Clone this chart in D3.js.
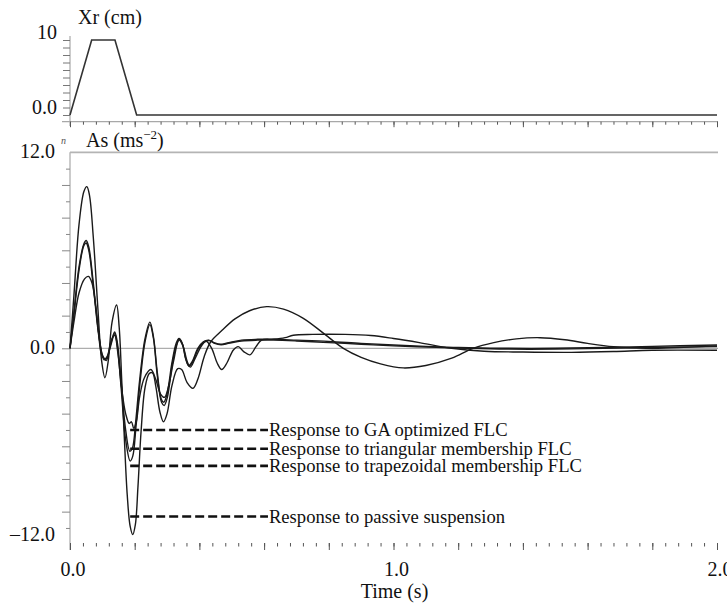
<!DOCTYPE html>
<html>
<head>
<meta charset="utf-8">
<script src="https://d3js.org/d3.v7.min.js"></script>
<style>
  body { margin: 0; background: #fff; }
  text { font-family: 'Liberation Serif', 'DejaVu Serif', serif; fill: #111; }
</style>
</head>
<body>
<svg id="chart" width="727" height="611"></svg>
<script>
// road input Xr (cm) vs time (s)
const roadInput = [[0, 0], [0.067, 10], [0.139, 10], [0.206, 0], [2.0, 0]];

// body acceleration As (m/s^2) vs time (s)
const passive = [[0,0],[0.012,3.2],[0.028,7.6],[0.043,9.6],[0.052,9.9],[0.06,9.4],[0.072,6.8],[0.086,2.5],[0.098,-0.8],[0.108,-1.8],[0.118,-0.8],[0.13,1.6],[0.144,2.65],[0.152,1.3],[0.16,-2.0],[0.168,-5.5],[0.177,-9.0],[0.186,-10.9],[0.194,-11.4],[0.202,-10.8],[0.21,-8.5],[0.22,-5.0],[0.232,-2.4],[0.245,-1.55],[0.255,-1.5],[0.265,-2.3],[0.278,-3.9],[0.289,-4.5],[0.3,-4.0],[0.315,-2.3],[0.333,-1.25],[0.345,-1.3],[0.362,-2.1],[0.38,-2.45],[0.395,-1.9],[0.415,-0.5],[0.435,0.4],[0.47,1.1],[0.51,1.8],[0.555,2.3],[0.608,2.55],[0.66,2.4],[0.72,1.85],[0.785,0.9],[0.845,0.0],[0.9,-0.55],[0.96,-0.95],[1.03,-1.2],[1.1,-1.05],[1.18,-0.6],[1.246,0.0],[1.31,0.35],[1.38,0.58],[1.453,0.65],[1.53,0.52],[1.6,0.3],[1.68,0.1],[1.78,0.0],[1.88,0.05],[2.0,0.15]];
const triangular = [[0,0],[0.012,2.2],[0.028,5.0],[0.043,6.4],[0.05,6.6],[0.058,6.2],[0.072,4.0],[0.088,1.0],[0.1,-0.4],[0.112,-0.75],[0.125,0.2],[0.138,1.0],[0.146,0.4],[0.158,-2.0],[0.172,-5.0],[0.185,-6.3],[0.193,-6.1],[0.203,-4.5],[0.215,-2.0],[0.232,0.6],[0.247,1.6],[0.258,0.7],[0.27,-1.5],[0.282,-3.1],[0.29,-3.3],[0.3,-2.8],[0.315,-0.9],[0.328,0.3],[0.337,0.6],[0.347,0.3],[0.357,-0.6],[0.367,-1.05],[0.378,-0.8],[0.395,0.0],[0.412,0.4],[0.428,0.5],[0.445,0.35],[0.465,0.25],[0.49,0.35],[0.53,0.5],[0.58,0.55],[0.63,0.55],[0.7,0.5],[0.8,0.42],[0.9,0.3],[1.0,0.2],[1.1,0.12],[1.2,0.05],[1.35,0.0],[1.5,0.0],[1.65,0.05],[1.8,0.12],[2.0,0.2]];
const trapezoidal = [[0,0],[0.012,2.0],[0.028,4.8],[0.043,6.3],[0.05,6.45],[0.058,6.0],[0.072,3.8],[0.088,0.9],[0.1,-0.5],[0.112,-0.65],[0.125,0.1],[0.138,0.9],[0.146,0.2],[0.158,-2.4],[0.172,-5.6],[0.186,-6.9],[0.194,-6.6],[0.204,-4.8],[0.216,-2.2],[0.232,0.4],[0.247,1.45],[0.258,0.6],[0.27,-1.7],[0.283,-3.3],[0.291,-3.5],[0.301,-3.0],[0.316,-1.0],[0.329,0.2],[0.338,0.55],[0.348,0.25],[0.358,-0.65],[0.368,-1.1],[0.379,-0.85],[0.396,-0.05],[0.413,0.35],[0.43,0.48],[0.447,0.3],[0.467,0.22],[0.49,0.3],[0.53,0.45],[0.58,0.5],[0.63,0.5],[0.7,0.45],[0.8,0.35],[0.9,0.25],[1.0,0.15],[1.1,0.08],[1.2,0.02],[1.35,-0.05],[1.5,-0.05],[1.65,0.0],[1.8,0.05],[2.0,0.1]];
const gaOptimized = [[0,0],[0.012,1.6],[0.028,3.4],[0.045,4.25],[0.057,4.4],[0.068,4.0],[0.08,2.5],[0.093,0.3],[0.105,-0.7],[0.115,-0.5],[0.128,0.5],[0.138,0.8],[0.148,-0.3],[0.16,-2.5],[0.172,-4.0],[0.183,-4.6],[0.19,-4.5],[0.197,-4.9],[0.205,-4.5],[0.215,-3.0],[0.23,-1.8],[0.25,-1.3],[0.265,-1.9],[0.28,-2.8],[0.292,-3.0],[0.305,-2.3],[0.32,-0.8],[0.337,0.5],[0.35,0.1],[0.362,-0.8],[0.372,-1.15],[0.385,-0.7],[0.405,0.1],[0.42,0.45],[0.438,0],[0.455,-0.9],[0.469,-1.3],[0.485,-0.9],[0.505,-0.1],[0.52,0.1],[0.537,-0.2],[0.556,-0.4],[0.575,0.1],[0.592,0.5],[0.63,0.55],[0.665,0.65],[0.69,0.8],[0.75,0.85],[0.85,0.85],[0.93,0.78],[1.0,0.6],[1.08,0.35],[1.18,0.0],[1.28,-0.18],[1.4,-0.23],[1.55,-0.25],[1.68,-0.2],[1.8,-0.12],[2.0,-0.12]];

const legendLabels = ['Response to GA optimized FLC', 'Response to triangular membership FLC',
  'Response to trapezoidal membership FLC', 'Response to passive suspension'];
const legendLevels = [-5.0, -6.15, -7.2, -10.3];   // As value where each pointer line sits
const legendSpan = [0.186, 0.612];                 // time range of the pointer lines

const topTicks = [0, 10];
const bottomTicks = [12, 0, -12];
const timeTicks = [0, 1, 2];

const svg = d3.select('#chart');

const x = d3.scaleLinear().domain([0, 2]).range([70, 717]);
const yTop = d3.scaleLinear().domain([0, 10]).range([115, 40]);
const yBot = d3.scaleLinear().domain([-12, 12]).range([544.3, 152.3]);

const axisGray = '#a8a8a8';

// ---------- top panel (road input) ----------
svg.append('line').attr('x1', 70).attr('x2', 70).attr('y1', 36).attr('y2', 126)
  .attr('stroke', axisGray).attr('stroke-width', 1.2);

svg.append('g').attr('transform', 'translate(70,0)')
  .call(d3.axisLeft(yTop).tickValues(d3.range(0, 10.01, 1)).tickSize(7).tickFormat(''))
  .call(g => g.select('.domain').remove())
  .call(g => g.selectAll('.tick line').attr('stroke', '#777'));

svg.append('line').attr('x1', 62).attr('x2', 718).attr('y1', 121.7).attr('y2', 121.7)
  .attr('stroke', axisGray).attr('stroke-width', 1.2);

svg.append('g').attr('transform', 'translate(0,121.7)')
  .call(d3.axisBottom(x).tickValues(d3.range(0, 2.001, 0.04)).tickSize(3).tickFormat(''))
  .call(g => g.select('.domain').remove())
  .call(g => g.selectAll('.tick line').attr('stroke', '#555'));
svg.append('g').attr('transform', 'translate(0,121.7)')
  .call(d3.axisBottom(x).tickValues(d3.range(0, 2.001, 0.2)).tickSize(5.5).tickFormat(''))
  .call(g => g.select('.domain').remove())
  .call(g => g.selectAll('.tick line').attr('stroke', '#555'));

svg.append('path').datum(roadInput)
  .attr('fill', 'none').attr('stroke', '#333').attr('stroke-width', 1.6)
  .attr('d', d3.line().x(d => x(d[0])).y(d => yTop(d[1])));

svg.selectAll('.top-label').data(topTicks).join('text')
  .attr('class', 'top-label')
  .attr('x', 57).attr('y', d => yTop(d) - 1)
  .attr('text-anchor', 'end').attr('font-size', 20)
  .text(d => d === 0 ? '0.0' : d);

svg.append('text').attr('x', 78).attr('y', 24).attr('font-size', 20).text('Xr (cm)');

// ---------- bottom panel (body acceleration) ----------
svg.append('line').attr('x1', 70).attr('x2', 70).attr('y1', yBot(12)).attr('y2', 550)
  .attr('stroke', axisGray).attr('stroke-width', 1.2);
svg.append('line').attr('x1', 70).attr('x2', 718).attr('y1', yBot(12)).attr('y2', yBot(12))
  .attr('stroke', '#b4b4b4').attr('stroke-width', 1.8);
svg.append('line').attr('x1', 70).attr('x2', 718).attr('y1', yBot(0)).attr('y2', yBot(0))
  .attr('stroke', '#999').attr('stroke-width', 1);

svg.append('g').attr('transform', 'translate(70,0)')
  .call(d3.axisLeft(yBot).tickValues(d3.range(-11, 12, 2)).tickSize(4).tickFormat(''))
  .call(g => g.select('.domain').remove())
  .call(g => g.selectAll('.tick line').attr('stroke', '#888'));
svg.append('g').attr('transform', 'translate(70,0)')
  .call(d3.axisLeft(yBot).tickValues(d3.range(-10, 11, 2)).tickSize(8).tickFormat(''))
  .call(g => g.select('.domain').remove())
  .call(g => g.selectAll('.tick line').attr('stroke', '#888'));

svg.append('g').attr('transform', 'translate(0,543)')
  .call(d3.axisBottom(x).tickValues(d3.range(0, 2.001, 0.04)).tickSize(3.5).tickFormat(''))
  .call(g => g.select('.domain').remove())
  .call(g => g.selectAll('.tick line').attr('stroke', '#555'));
svg.append('g').attr('transform', 'translate(0,543)')
  .call(d3.axisBottom(x).tickValues(d3.range(0, 2.001, 0.2)).tickSize(7).tickFormat(''))
  .call(g => g.select('.domain').remove())
  .call(g => g.selectAll('.tick line').attr('stroke', '#555'));

const line = d3.line().x(d => x(d[0])).y(d => yBot(d[1])).curve(d3.curveCatmullRom.alpha(0.5));

[passive, trapezoidal, triangular, gaOptimized].forEach(series => {
  svg.append('path').datum(series)
    .attr('fill', 'none').attr('stroke', '#1a1a1a').attr('stroke-width', 1.4)
    .attr('d', line);
});

// pointer lines + labels
svg.selectAll('.ptr').data(legendLevels).join('line')
  .attr('class', 'ptr')
  .attr('x1', x(legendSpan[0])).attr('x2', x(legendSpan[1]))
  .attr('y1', d => yBot(d)).attr('y2', d => yBot(d))
  .attr('stroke', '#111').attr('stroke-width', 2.6).attr('stroke-dasharray', '9,4');

svg.selectAll('.ptr-label').data(legendLabels).join('text')
  .attr('class', 'ptr-label')
  .attr('x', x(legendSpan[1]) + 1).attr('y', (d, i) => yBot(legendLevels[i]) + 6)
  .attr('font-size', 18.6)
  .text(d => d);

svg.selectAll('.bot-label').data(bottomTicks).join('text')
  .attr('class', 'bot-label')
  .attr('x', 55).attr('y', d => Math.min(yBot(d) + 6, 541))
  .attr('text-anchor', 'end').attr('font-size', 20)
  .text(d => d < 0 ? '\u2013' + Math.abs(d).toFixed(1) : d.toFixed(1));

svg.append('text').attr('x', 61).attr('y', 144).attr('font-size', 10)
  .attr('font-style', 'italic').style('fill', '#555').text('n');

const asLabel = svg.append('text').attr('x', 86).attr('y', 147).attr('font-size', 20);
asLabel.append('tspan').text('As (ms');
asLabel.append('tspan').attr('font-size', 13).attr('dy', -8).text('\u22122');
asLabel.append('tspan').attr('dy', 8).text(')');

svg.selectAll('.time-label').data(timeTicks).join('text')
  .attr('class', 'time-label')
  .attr('x', d => x(d) + 3).attr('y', 576)
  .attr('text-anchor', 'middle').attr('font-size', 20)
  .text(d => d.toFixed(1));

svg.append('text').attr('x', x(1) + 1).attr('y', 598)
  .attr('text-anchor', 'middle').attr('font-size', 20).text('Time (s)');
</script>
</body>
</html>
